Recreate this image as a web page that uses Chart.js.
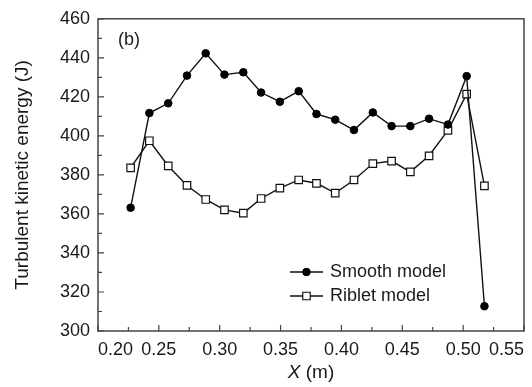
<!DOCTYPE html>
<html>
<head>
<meta charset="utf-8">
<script src="https://cdn.jsdelivr.net/npm/chart.js@4.4.0/dist/chart.umd.min.js"></script>
<style>
  html, body { margin: 0; padding: 0; background: #fff; }
</style>
</head>
<body>
<canvas id="grafico" width="532" height="387"></canvas>
<script>
// Dados (b)
const posicoesX = [0.2268, 0.2422, 0.2577, 0.2731, 0.2885, 0.3039, 0.3194, 0.3340, 0.3494, 0.3649,
                   0.3795, 0.3949, 0.4103, 0.4258, 0.4412, 0.4566, 0.4720, 0.4875, 0.5029, 0.5175];
const modeloLiso = [363.2, 411.7, 416.7, 430.9, 442.3, 431.4, 432.6, 422.2, 417.5, 422.9,
                    411.2, 408.3, 403.0, 412.0, 405.0, 405.0, 408.8, 405.8, 430.6, 312.7];
const modeloRiblet = [383.6, 397.5, 384.6, 374.6, 367.4, 362.1, 360.4, 367.9, 373.2, 377.4,
                      375.7, 370.7, 377.4, 385.8, 387.1, 381.6, 389.8, 402.8, 421.4, 374.4];
const ticksX = [0.20, 0.25, 0.30, 0.35, 0.40, 0.45, 0.50, 0.55];
const ticksY = [300, 320, 340, 360, 380, 400, 420, 440, 460];
const nomesSeries = ['Smooth model', 'Riblet model'];

const corTexto = '#1a1a1a';
const fonte = 'Liberation Sans, Arial, sans-serif';

const pontos = (ys) => posicoesX.map((x, i) => ({ x: x, y: ys[i] }));

// Moldura e marcas de escala voltadas para dentro
const moldura = {
    id: 'moldura',
    afterDraw(chart) {
        const { ctx, chartArea: a, scales: { x, y } } = chart;
        ctx.save();
        ctx.strokeStyle = '#444';
        ctx.lineWidth = 1.5;
        ctx.strokeRect(a.left, a.top, a.right - a.left, a.bottom - a.top);
        ctx.lineWidth = 1.2;
        ctx.beginPath();
        for (let i = 0; i < ticksX.length; i++) {
            const px = x.getPixelForValue(ticksX[i]);
            ctx.moveTo(px, a.bottom); ctx.lineTo(px, a.bottom - 6);
            if (i < ticksX.length - 1) {
                const mx = x.getPixelForValue((ticksX[i] + ticksX[i + 1]) / 2);
                ctx.moveTo(mx, a.bottom); ctx.lineTo(mx, a.bottom - 4);
            }
        }
        for (let i = 0; i < ticksY.length; i++) {
            const py = y.getPixelForValue(ticksY[i]);
            ctx.moveTo(a.left, py); ctx.lineTo(a.left + 6, py);
            if (i < ticksY.length - 1) {
                const my = y.getPixelForValue((ticksY[i] + ticksY[i + 1]) / 2);
                ctx.moveTo(a.left, my); ctx.lineTo(a.left + 4, my);
            }
        }
        ctx.stroke();

        // rótulo do painel
        ctx.fillStyle = corTexto;
        ctx.font = '18px ' + fonte;
        ctx.textBaseline = 'middle';
        ctx.textAlign = 'left';
        ctx.fillText('(b)', a.left + 20, a.top + 21);

        // título do eixo X com X em itálico
        const cx = (a.left + a.right) / 2;
        const ty = 373;
        ctx.font = 'italic 19px ' + fonte;
        const w1 = ctx.measureText('X').width;
        ctx.font = '19px ' + fonte;
        const w2 = ctx.measureText(' (m)').width;
        const x0 = cx - (w1 + w2) / 2;
        ctx.font = 'italic 19px ' + fonte;
        ctx.fillText('X', x0, ty);
        ctx.font = '19px ' + fonte;
        ctx.fillText(' (m)', x0 + w1, ty);

        // legenda
        const lx = 290, lw = 33;
        chart.data.datasets.forEach((ds, i) => {
            const ly = 272 + i * 24;
            ctx.strokeStyle = ds.borderColor;
            ctx.lineWidth = ds.borderWidth;
            ctx.beginPath();
            ctx.moveTo(lx, ly); ctx.lineTo(lx + lw, ly);
            ctx.stroke();
            const mx = lx + lw / 2;
            ctx.fillStyle = ds.pointBackgroundColor;
            ctx.strokeStyle = ds.pointBorderColor;
            ctx.lineWidth = ds.pointBorderWidth;
            ctx.beginPath();
            if (ds.pointStyle === 'rect') {
                const s = ds.pointRadius * Math.SQRT1_2;
                ctx.rect(mx - s, ly - s, 2 * s, 2 * s);
            } else {
                ctx.arc(mx, ly, ds.pointRadius, 0, Math.PI * 2);
            }
            ctx.fill();
            ctx.stroke();
            ctx.fillStyle = corTexto;
            ctx.font = '18px ' + fonte;
            ctx.textAlign = 'left';
            ctx.fillText(ds.label, lx + lw + 7, ly);
        });
        ctx.restore();
    }
};

new Chart(document.getElementById('grafico'), {
    type: 'line',
    data: {
        datasets: [
            {
                label: nomesSeries[0],
                data: pontos(modeloLiso),
                borderColor: '#111',
                borderWidth: 1.4,
                pointStyle: 'circle',
                pointRadius: 3.8,
                pointBackgroundColor: '#000',
                pointBorderColor: '#000',
                pointBorderWidth: 1,
                tension: 0
            },
            {
                label: nomesSeries[1],
                data: pontos(modeloRiblet),
                borderColor: '#111',
                borderWidth: 1.4,
                pointStyle: 'rect',
                pointRadius: 5.3,
                pointBackgroundColor: '#fff',
                pointBorderColor: '#111',
                pointBorderWidth: 1.2,
                tension: 0
            }
        ]
    },
    options: {
        responsive: false,
        animation: false,
        devicePixelRatio: 1,
        layout: { padding: { left: 0, right: 3, top: 12, bottom: 0 } },
        plugins: {
            legend: { display: false },
            tooltip: { enabled: false }
        },
        scales: {
            x: {
                type: 'linear',
                min: 0.20,
                max: 0.55,
                grid: { display: false, drawTicks: false },
                border: { display: false },
                afterBuildTicks: s => { s.ticks = ticksX.map(v => ({ value: v })); },
                afterFit: s => { s.height = 56; },
                ticks: {
                    align: 'inner',
                    padding: 8,
                    color: corTexto,
                    font: { family: fonte, size: 18 },
                    maxRotation: 0,
                    callback: v => v.toFixed(2)
                }
            },
            y: {
                min: 300,
                max: 460,
                grid: { display: false, drawTicks: false },
                border: { display: false },
                afterBuildTicks: s => { s.ticks = ticksY.map(v => ({ value: v })); },
                afterFit: s => { s.width = 98; },
                ticks: {
                    padding: 8,
                    color: corTexto,
                    font: { family: fonte, size: 18 }
                },
                title: {
                    display: true,
                    text: 'Turbulent kinetic energy (J)',
                    color: corTexto,
                    font: { family: fonte, size: 19 },
                    padding: { top: 11, bottom: 0 }
                }
            }
        }
    },
    plugins: [moldura]
});
</script>
</body>
</html>
